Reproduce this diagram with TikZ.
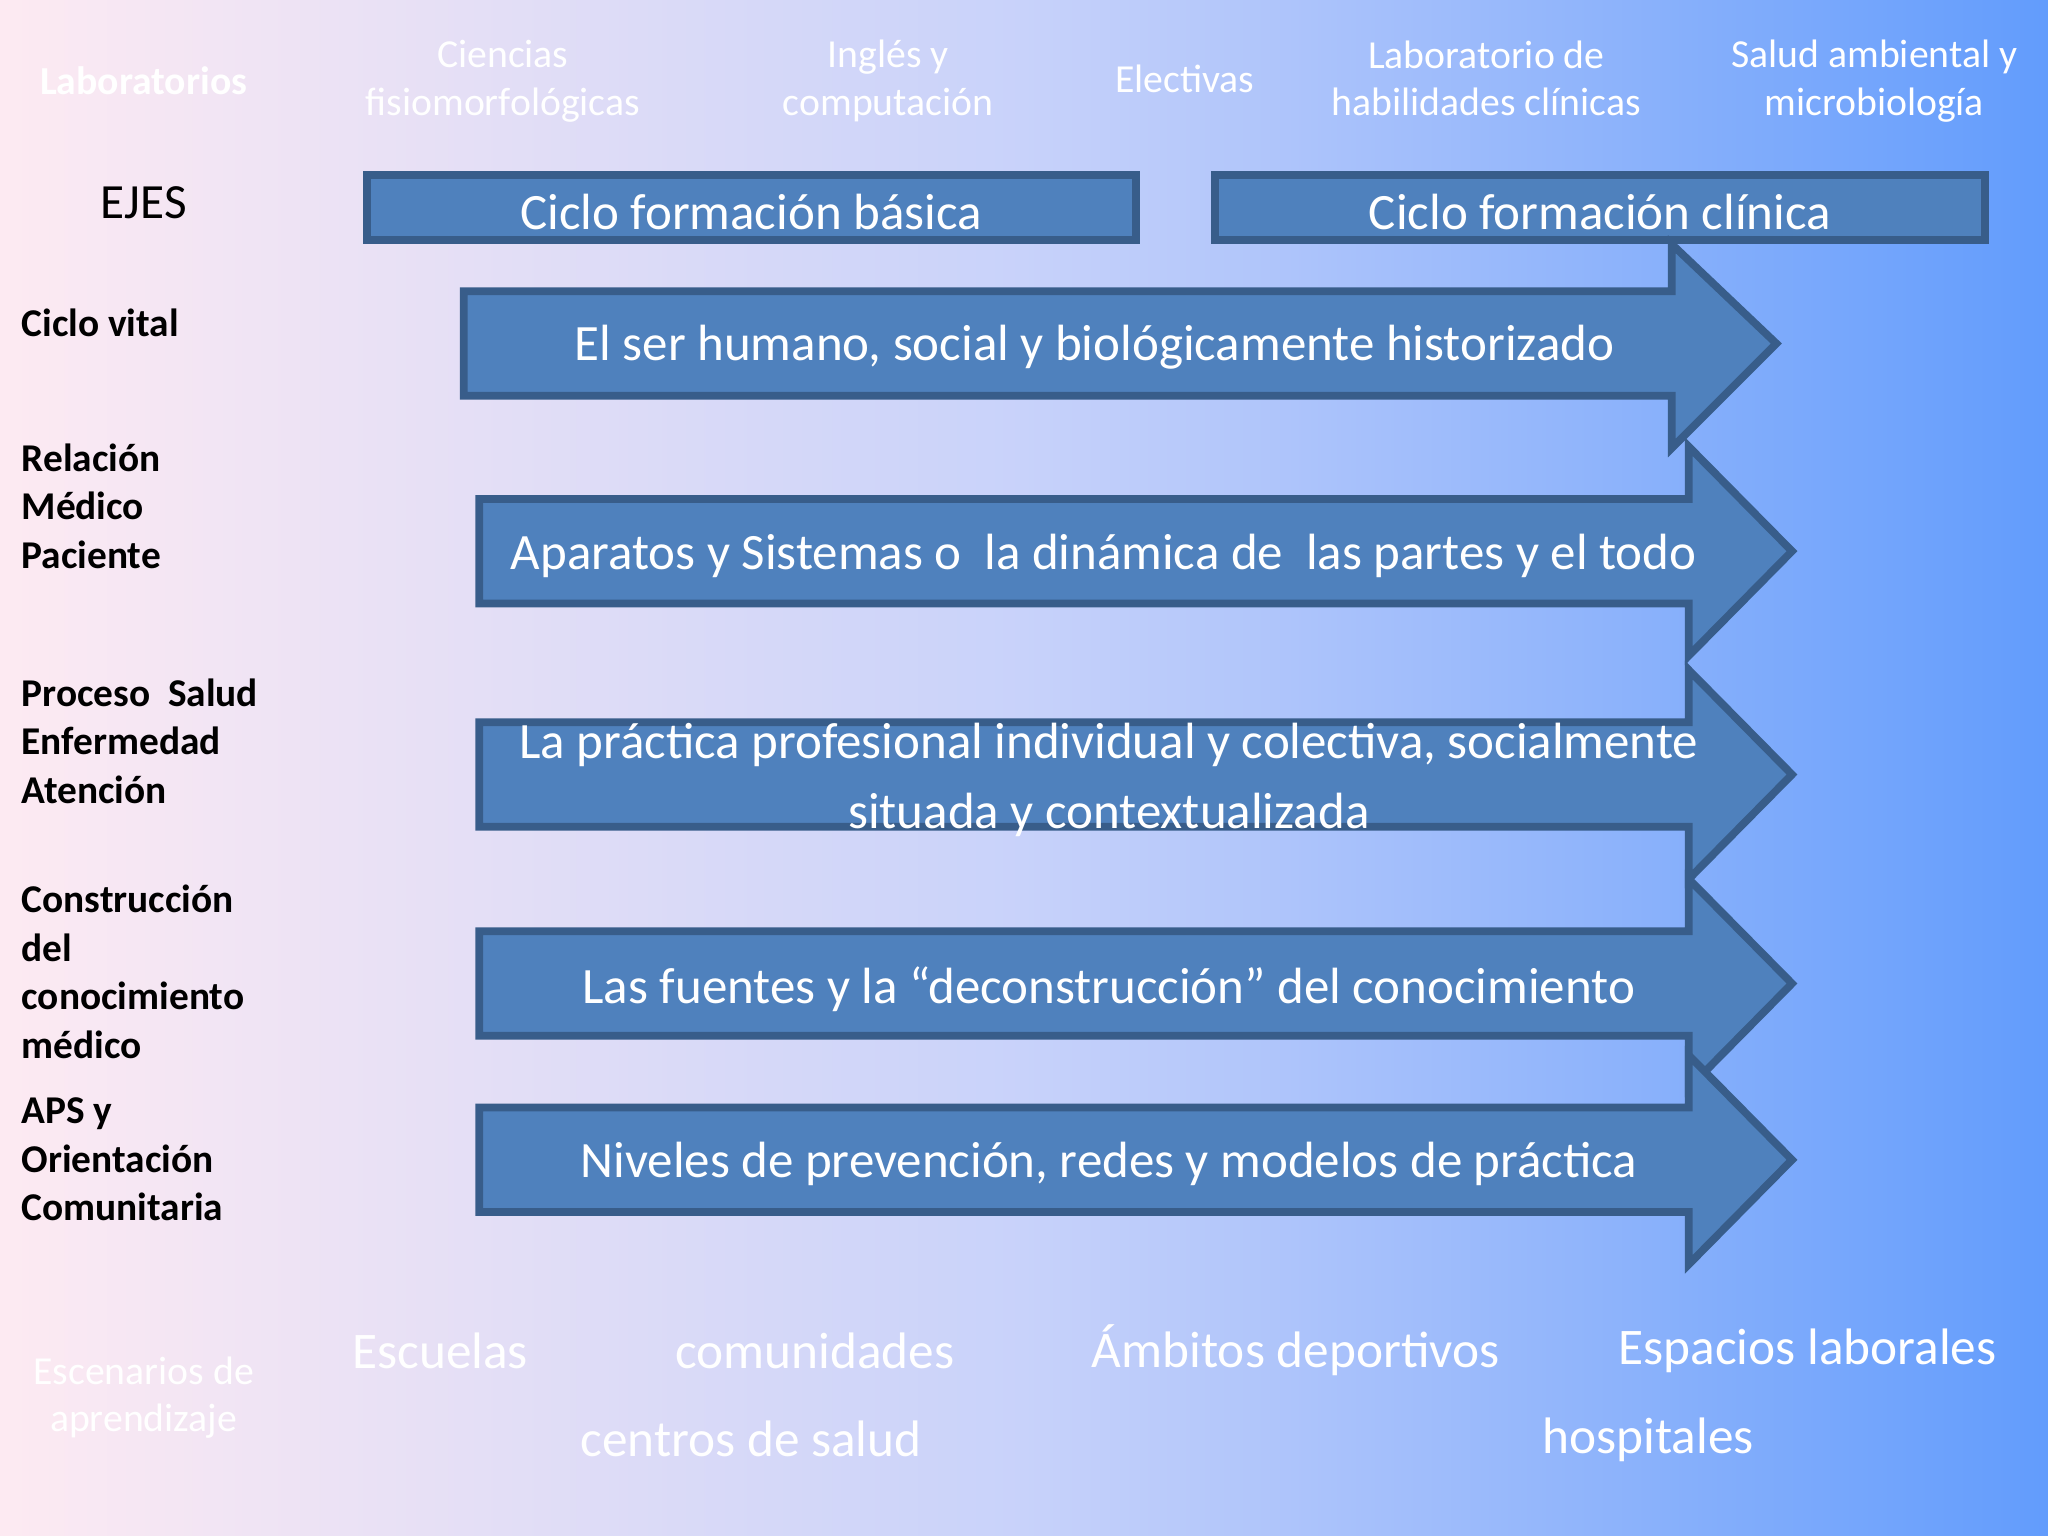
\documentclass[tikz,border=0pt]{standalone}
\usepackage{fontspec}
\setmainfont{Carlito}
\definecolor{bodyc}{HTML}{4F81BD}
\definecolor{edgec}{HTML}{385D8A}
\definecolor{bgl}{HTML}{FDEAF2}
\definecolor{bgm}{HTML}{C8D2FA}
\definecolor{bgr}{HTML}{629CFC}
\begin{document}
\begin{tikzpicture}[x=0.013061cm,y=-0.013061cm,
  arr/.style={fill=bodyc,draw=edgec,line width=2.2pt,line join=miter},
  atext/.style={text=white,font=\fontsize{14.5}{17.5}\selectfont,align=center},
  lab/.style={font=\bfseries\fontsize{11.2}{13.8}\selectfont,align=left,anchor=north west,inner sep=0},
  top/.style={text=white,font=\fontsize{11.3}{13.6}\selectfont,align=center},
  bot/.style={text=white,font=\fontsize{14.6}{18}\selectfont}]
\shade[left color=bgl,right color=bgr,middle color=bgm] (0,0) rectangle (1568,1176);
\useasboundingbox (0,0) rectangle (1568,1176);
% top labels
\node[top,font=\bfseries\fontsize{11.3}{13.6}\selectfont] (lab) at (110,62) {Laboratorios};
\node[top] (cf) at (385,62) {Ciencias\\fisiomorfológicas};
\node[top] (ic) at (680,62) {Inglés y\\computación};
\node[top] (el) at (907,60) {Electivas};
\node[top] (lh) at (1138,60) {Laboratorio de\\habilidades clínicas};
\node[top] (sa) at (1435,62) {Salud ambiental y\\microbiología};
\node[font=\fontsize{14}{17}\selectfont] (ejes) at (110,155) {EJES};
% cycle boxes
\draw[arr] (281,134) rectangle (870,184);
\node[atext] (cb) at (575,162) {Ciclo formación básica};
\draw[arr] (930,134) rectangle (1520,184);
\node[atext] (cc) at (1225,162) {Ciclo formación clínica};
% arrows
\draw[arr] (355,223) -- (1280,223) -- (1280,187) -- (1360,263) -- (1280,343) -- (1280,303) -- (355,303) -- cycle;
\node[atext] (a1) at (838,266) {El ser humano, social y biológicamente historizado};
\foreach \c in {422,593,753,888}{
\draw[arr] (367,\c-40) -- (1293,\c-40) -- (1293,\c-80) -- (1372,\c) -- (1293,\c+80) -- (1293,\c+40) -- (367,\c+40) -- cycle;}
\node[atext] (a2) at (845,426) {Aparatos y Sistemas o \ la dinámica de \ las partes y el todo};
\node[atext,font=\fontsize{14.5}{20}\selectfont] (a3) at (849,597) {La práctica profesional individual y colectiva, socialmente\\situada y contextualizada};
\node[atext] (a4) at (849,757) {Las fuentes y la “deconstrucción” del conocimiento};
\node[atext] (a5) at (849,891) {Niveles de prevención, redes y modelos de práctica};
% left labels
\node[lab] (l1) at (16,236) {Ciclo vital};
\node[lab] (l2) at (16,339) {Relación\\Médico\\Paciente};
\node[lab] (l3) at (16,519) {Proceso \ Salud\\Enfermedad\\Atención};
\node[lab] (l4) at (16,677) {Construcción\\del\\conocimiento\\médico};
\node[lab] (l5) at (16,840) {APS y\\Orientación\\Comunitaria};
% bottom
\node[top] (esc) at (110,1070) {Escenarios de\\aprendizaje};
\node[bot] (b1) at (337,1034) {Escuelas};
\node[bot] (b2) at (624,1034) {comunidades};
\node[bot] (b3) at (992,1034) {Ámbitos deportivos};
\node[bot] (b4) at (1384,1034) {Espacios laborales};
\node[bot] (b5) at (575,1102) {centros de salud};
\node[bot] (b6) at (1262,1102) {hospitales};
\end{tikzpicture}
\end{document}
